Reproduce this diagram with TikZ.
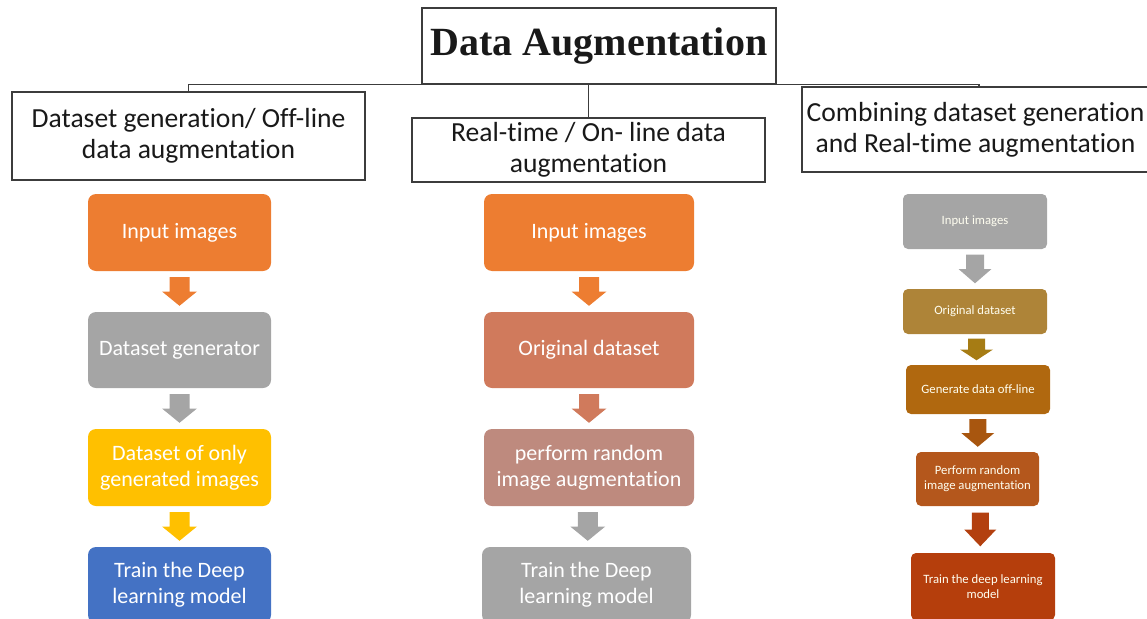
\documentclass[tikz,border=0pt]{standalone}
\usepackage{fontspec}
\setmainfont{Carlito}[Ligatures={NoCommon,NoContextual}]
\newfontfamily\titlefont{Liberation Serif}
\usetikzlibrary{calc}
\definecolor{orng}{HTML}{ED7D31}
\definecolor{gry}{HTML}{A5A5A5}
\definecolor{ylw}{HTML}{FFC000}
\definecolor{blu}{HTML}{4472C4}
\definecolor{morig}{HTML}{D07A5C}
\definecolor{mperf}{HTML}{BE8A7E}
\definecolor{rorig}{HTML}{AE8438}
\definecolor{rarr2}{HTML}{A67C14}
\definecolor{rgen}{HTML}{B0680F}
\definecolor{rarr3}{HTML}{A8560F}
\definecolor{rperf}{HTML}{B4571C}
\definecolor{rarr4}{HTML}{B3400F}
\definecolor{rtrain}{HTML}{B53E0C}
\definecolor{edge}{HTML}{3C3C3C}
\newcommand\blockarrow[6]{%
  \fill[#3] let \p1=(#1.south), \p2=(#2.north), \p3=($(#1.south)!0.5!(#2.north)$) in
    (\x3-#4,\y1-#6) -- (\x3+#4,\y1-#6) -- (\x3+#4,\y3) -- (\x3+#5,\y3) -- (\x3,\y2+#6)
    -- (\x3-#5,\y3) -- (\x3-#4,\y3) -- cycle;}
\tikzset{
  hdr/.style={draw=edge, line width=1.3pt, fill=white, inner sep=0pt, align=center,
    text=black!90, font=\fontsize{27.6}{31}\selectfont},
  conn/.style={draw=edge, line width=1.3pt},
  bigbox/.style={rounded corners=8pt, inner sep=0pt, align=center, text=white,
    font=\fontsize{22}{26}\selectfont},
  smallbox/.style={rounded corners=5pt, inner sep=0pt, align=center, text=white!94!yellow,
    font=\fontsize{12.7}{14.8}\selectfont},
}
\begin{document}
\begin{tikzpicture}[x=1pt,y=-1pt]
\useasboundingbox (0,0) rectangle (1147,618);
% header
\node[hdr, minimum width=354pt, minimum height=76pt, font=\titlefont\bfseries\fontsize{40}{48}\selectfont]
  (T) at (599,46) {Data Augmentation};
\node[hdr, minimum width=353pt, minimum height=88pt] (L) at (188.5,136)
  {Dataset generation/ Off-line\\data augmentation};
\node[hdr, minimum width=353pt, minimum height=64pt] (M) at (588.5,150)
  {Real-time / On- line data\\augmentation};
\node[hdr, minimum width=347pt, minimum height=85pt] (R) at (975.5,129.5)
  {Combining dataset generation\\and Real-time augmentation};
\coordinate (rj) at ($(R.north)+(3.5pt,0)$);
\draw[conn] (L.north) -- (L.north |- T.south) -- (rj |- T.south) -- (rj);
\draw[conn] (M.north) -- (M.north |- T.south);
% left column
\node[bigbox, fill=orng, minimum width=183pt, minimum height=77pt] (L1) at (179.5,232.5) {Input images};
\node[bigbox, fill=gry, minimum width=183pt, minimum height=76pt] (L2) at (179.5,350) {Dataset generator};
\node[bigbox, fill=ylw, minimum width=183pt, minimum height=77pt] (L3) at (179.5,467.5) {Dataset of only\\generated images};
\node[bigbox, fill=blu, minimum width=183pt, minimum height=76pt] (L4) at (179.5,585) {Train the Deep\\learning model};
\blockarrow{L1}{L2}{orng}{10pt}{17.5pt}{6pt}
\blockarrow{L2}{L3}{gry}{10pt}{17.5pt}{6pt}
\blockarrow{L3}{L4}{ylw}{10pt}{17.5pt}{6pt}
% middle column
\node[bigbox, fill=orng, minimum width=210pt, minimum height=77pt] (M1) at (589,232.5) {Input images};
\node[bigbox, fill=morig, minimum width=210pt, minimum height=76pt] (M2) at (589,350) {Original dataset};
\node[bigbox, fill=mperf, minimum width=210pt, minimum height=77pt] (M3) at (589,467.5) {perform random\\image augmentation};
\node[bigbox, fill=gry, minimum width=209pt, minimum height=76pt] (M4) at (586.5,585) {Train the Deep\\learning model};
\blockarrow{M1}{M2}{orng}{10pt}{17.5pt}{6pt}
\blockarrow{M2}{M3}{morig}{10pt}{17.5pt}{6pt}
\blockarrow{M3}{M4}{gry}{10pt}{17.5pt}{6pt}
% right column
\node[smallbox, fill=gry, minimum width=144pt, minimum height=55pt] (R1) at (975,221.5) {Input images};
\node[smallbox, fill=rorig, minimum width=144pt, minimum height=45pt] (R2) at (975,311.5) {Original dataset};
\node[smallbox, fill=rgen, minimum width=144pt, minimum height=49pt] (R3) at (978,389.5) {Generate data off-line};
\node[smallbox, fill=rperf, minimum width=123pt, minimum height=54pt] (R4) at (977.5,479) {Perform random\\image augmentation};
\node[smallbox, fill=rtrain, minimum width=144pt, minimum height=67pt] (R5) at (983,586.5) {Train the deep learning\\model};
\blockarrow{R1}{R2}{gry}{9pt}{16.5pt}{5.5pt}
\blockarrow{R2}{R3}{rarr2}{8.5pt}{16.5pt}{4.5pt}
\blockarrow{R3}{R4}{rarr3}{8.5pt}{16.5pt}{5pt}
\blockarrow{R4}{R5}{rarr4}{8.5pt}{16pt}{6.5pt}
\end{tikzpicture}
\end{document}
